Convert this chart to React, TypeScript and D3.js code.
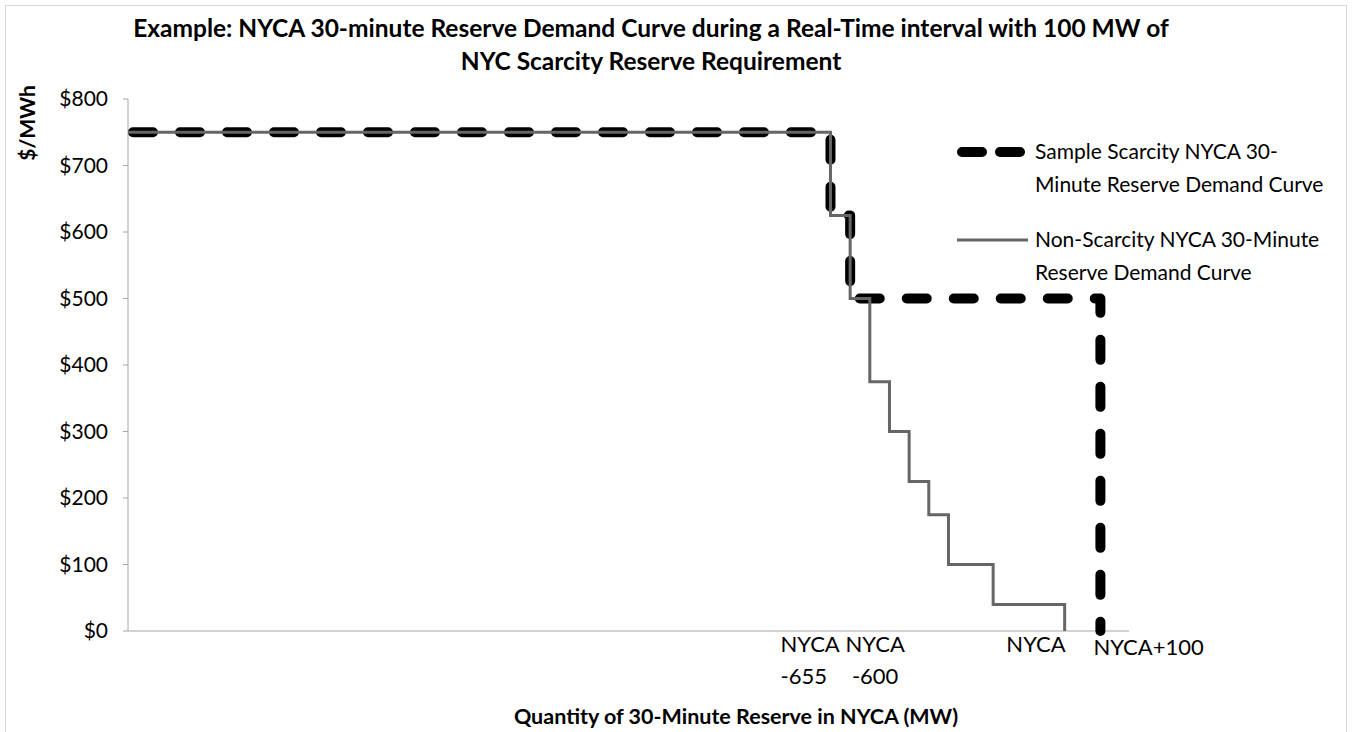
import { useMemo } from 'react';
import { scaleLinear, line, curveStepAfter } from 'd3';

// MW relative to the NYCA 30-minute requirement
const scarcityMw = [-2620, -655, -600, 100];
const scarcityPrice = [750, 625, 500, 0];

const nonScarcityMw = [-2620, -655, -600, -545, -490, -435, -380, -325, -200, 0];
const nonScarcityPrice = [750, 625, 500, 375, 300, 225, 175, 100, 40, 0];

const priceTicks = [0, 100, 200, 300, 400, 500, 600, 700, 800];

const qtyLabelMw = [-655, -600, 0, 100];
const qtyLabelText = [['NYCA', '-655'], ['NYCA', '-600'], ['NYCA'], ['NYCA+100']];

const titleLines = [
  'Example: NYCA 30-minute Reserve Demand Curve during a Real-Time interval with 100 MW of',
  'NYC Scarcity Reserve Requirement',
];
const legendScarcity = ['Sample Scarcity NYCA 30-', 'Minute Reserve Demand Curve'];
const legendNonScarcity = ['Non-Scarcity NYCA 30-Minute', 'Reserve Demand Curve'];

const FONT = 'Lato, "Open Sans", sans-serif';
const W = 1352;
const H = 732;
const plot = { left: 128, right: 1129, top: 99, bottom: 631 };

// label placement per quantity label: anchor and nudge
const labelStyle: { anchor: 'start' | 'middle' | 'end'; dx: number; y: number }[] = [
  { anchor: 'start', dx: -50, y: 652 },
  { anchor: 'middle', dx: 25, y: 652 },
  { anchor: 'end', dx: 1, y: 652 },
  { anchor: 'start', dx: -7, y: 655 },
];

type Pt = [number, number];

export default function App() {
  const x = useMemo(() => scaleLinear().domain([-2620, 180]).range([plot.left, plot.right]), []);
  const y = useMemo(() => scaleLinear().domain([0, 800]).range([plot.bottom, plot.top]), []);

  const stepLine = line<Pt>().x(d => x(d[0])).y(d => y(d[1])).curve(curveStepAfter);
  const scarcityPts: Pt[] = scarcityMw.map((m, i) => [m, scarcityPrice[i]]);
  const nonScarcityPts: Pt[] = nonScarcityMw.map((m, i) => [m, nonScarcityPrice[i]]);

  return (
    <svg width={W} height={H} style={{ position: 'absolute', left: 0, top: 0, background: '#fff' }}>
      <rect x={5.5} y={5.5} width={W - 11} height={H + 10} fill="#fff" stroke="#d9d9d9" strokeWidth={1} />

      {/* Title */}
      {titleLines.map((t, i) => (
        <text key={t} x={651} y={37 + i * 33} textAnchor="middle" fontFamily={FONT} fontWeight={700}
          fontSize={24.5} fill="#000">{t}</text>
      ))}

      {/* Y axis */}
      <line x1={plot.left} x2={plot.left} y1={plot.top} y2={plot.bottom} stroke="#a6a6a6" strokeWidth={1} />
      {priceTicks.map(v => (
        <g key={v}>
          <line x1={plot.left - 5} x2={plot.left} y1={y(v)} y2={y(v)} stroke="#a6a6a6" strokeWidth={1} />
          <text x={108} y={y(v)} dy="0.35em" textAnchor="end" fontFamily={FONT} fontSize={21} fill="#000">
            ${v}
          </text>
        </g>
      ))}
      <text transform="translate(35,123) rotate(-90)" textAnchor="middle" fontFamily={FONT} fontWeight={700}
        fontSize={21} fill="#000">$/MWh</text>

      {/* X axis */}
      <line x1={plot.left} x2={plot.right} y1={plot.bottom} y2={plot.bottom} stroke="#a6a6a6" strokeWidth={1} />
      {qtyLabelMw.map((m, i) => (
        <text key={i} x={x(m) + labelStyle[i].dx} y={labelStyle[i].y} textAnchor={labelStyle[i].anchor}
          fontFamily={FONT} fontSize={22} fill="#000">
          {qtyLabelText[i].map((s, j) => (
            <tspan key={j} x={x(m) + labelStyle[i].dx} dy={j === 0 ? 0 : 32}>{s}</tspan>
          ))}
        </text>
      ))}
      <text x={736} y={724} textAnchor="middle" fontFamily={FONT} fontWeight={700} fontSize={21.5} fill="#000">
        Quantity of 30-Minute Reserve in NYCA (MW)
      </text>

      {/* Series */}
      <path d={stepLine(scarcityPts) ?? ''} fill="none" stroke="#000" strokeWidth={10}
        strokeDasharray="20 27" strokeDashoffset={42} strokeLinecap="round" strokeLinejoin="round" />
      <path d={stepLine(nonScarcityPts) ?? ''} fill="none" stroke="#666" strokeWidth={3} />

      {/* Legend */}
      <line x1={962} x2={1020} y1={152} y2={152} stroke="#000" strokeWidth={10} strokeDasharray="20 18"
        strokeLinecap="round" />
      {legendScarcity.map((t, i) => (
        <text key={t} x={1035} y={152 + i * 33} dy="0.35em" fontFamily={FONT} fontSize={21} fill="#000">{t}</text>
      ))}
      <line x1={957} x2={1028} y1={240} y2={240} stroke="#666" strokeWidth={3} />
      {legendNonScarcity.map((t, i) => (
        <text key={t} x={1035} y={240 + i * 33} dy="0.35em" fontFamily={FONT} fontSize={21} fill="#000">{t}</text>
      ))}
    </svg>
  );
}
